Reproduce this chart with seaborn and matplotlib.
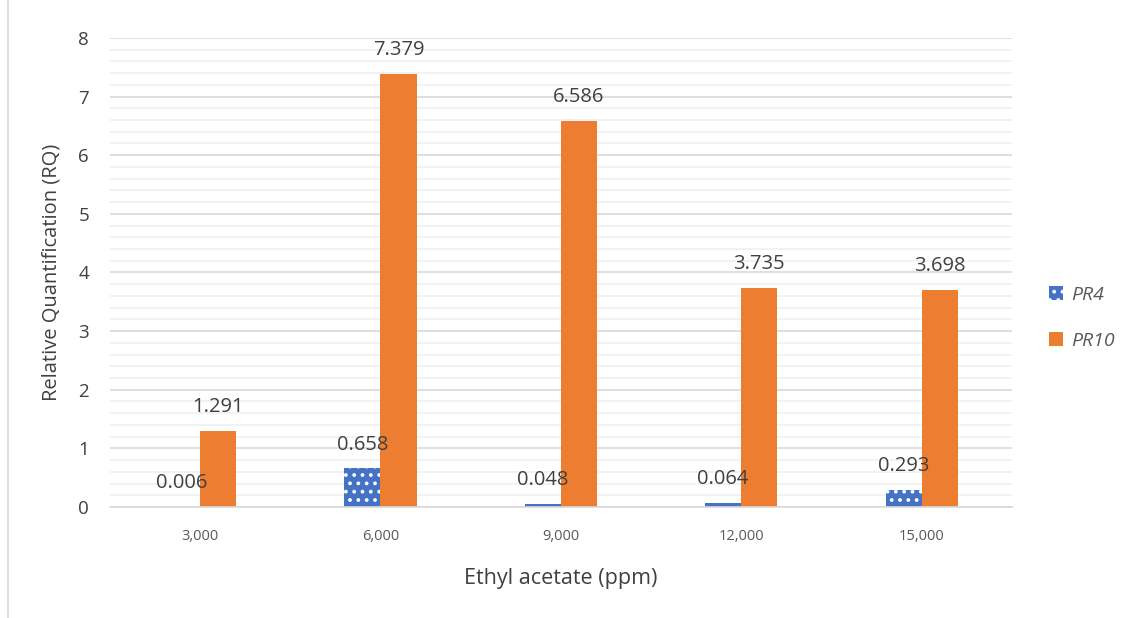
import matplotlib
matplotlib.use("Agg")
import matplotlib.pyplot as plt
import seaborn as sns
import pandas as pd
from matplotlib.patches import Rectangle, Patch
from matplotlib.ticker import MultipleLocator

# data
concentrations = ["3,000", "6,000", "9,000", "12,000", "15,000"]
pr4_values = [0.006, 0.658, 0.048, 0.064, 0.293]
pr10_values = [1.291, 7.379, 6.586, 3.735, 3.698]
genes = ["PR4", "PR10"]
colors = ["#4472C4", "#ED7D31"]

df = pd.DataFrame({
    "conc": concentrations * 2,
    "rq": pr4_values + pr10_values,
    "gene": [genes[0]] * len(concentrations) + [genes[1]] * len(concentrations),
})

sns.set_style("white")
plt.rcParams["font.family"] = ["Open Sans", "DejaVu Sans"]
plt.rcParams["hatch.color"] = "white"
plt.rcParams["hatch.linewidth"] = 1.5

fig = plt.figure(figsize=(11.33, 6.18), dpi=100)
ax = fig.add_axes([0.097, 0.1796, 0.796, 0.759])

sns.barplot(data=df, x="conc", y="rq", hue="gene", palette=colors,
            width=0.4, saturation=1, ax=ax, legend=False)

# dotted fill on PR4 bars
for bar in ax.containers[0]:
    bar.set_hatch("..")
    bar.set_edgecolor("white")
    bar.set_linewidth(0)
for bar in ax.containers[1]:
    bar.set_linewidth(0)

# value labels
for cont, vals in zip(ax.containers, [pr4_values, pr10_values]):
    ax.bar_label(cont, labels=[f"{v:.3f}" for v in vals], padding=10,
                 fontsize=14.5, color="#404040")

ax.set_ylim(0, 8)
ax.set_xlim(-0.5, 4.5)
ax.yaxis.set_major_locator(MultipleLocator(1))
ax.yaxis.set_minor_locator(MultipleLocator(0.2))
ax.grid(axis="y", which="major", color="#D9D9D9", linewidth=1.2)
ax.grid(axis="y", which="minor", color="#F0F0F0", linewidth=1.2)
ax.set_axisbelow(True)
for s in ["top", "right", "left"]:
    ax.spines[s].set_visible(False)
ax.spines["bottom"].set_color("#D9D9D9")
ax.spines["bottom"].set_linewidth(1.2)

ax.tick_params(axis="y", which="both", length=0, labelsize=13.5, labelcolor="#404040", pad=15)
ax.tick_params(axis="x", length=0, labelsize=10.5, labelcolor="#595959", pad=16)
ax.set_xlabel("Ethyl acetate (ppm)", fontsize=15.5, color="#404040", labelpad=17)
ax.set_ylabel("Relative Quantification (RQ)", fontsize=14.5, color="#404040", labelpad=12)

handles = [Patch(facecolor=colors[0], edgecolor="white", hatch="..", linewidth=0),
           Patch(facecolor=colors[1], edgecolor=colors[1], linewidth=0)]
leg = fig.legend(handles, genes, loc="center left", bbox_to_anchor=(0.91, 0.486),
                 frameon=False, handlelength=0.75, handleheight=0.75, labelspacing=1.45,
                 handletextpad=0.4, prop={"size": 14, "style": "italic"})
for t in leg.get_texts():
    t.set_color("#595959")

# chart area frame
fig.patches.append(Rectangle((0.007, -0.01), 1.0, 1.02, transform=fig.transFigure,
                             fill=False, edgecolor="#D9D9D9", linewidth=1.2))

fig.savefig("out.png", dpi=100)
